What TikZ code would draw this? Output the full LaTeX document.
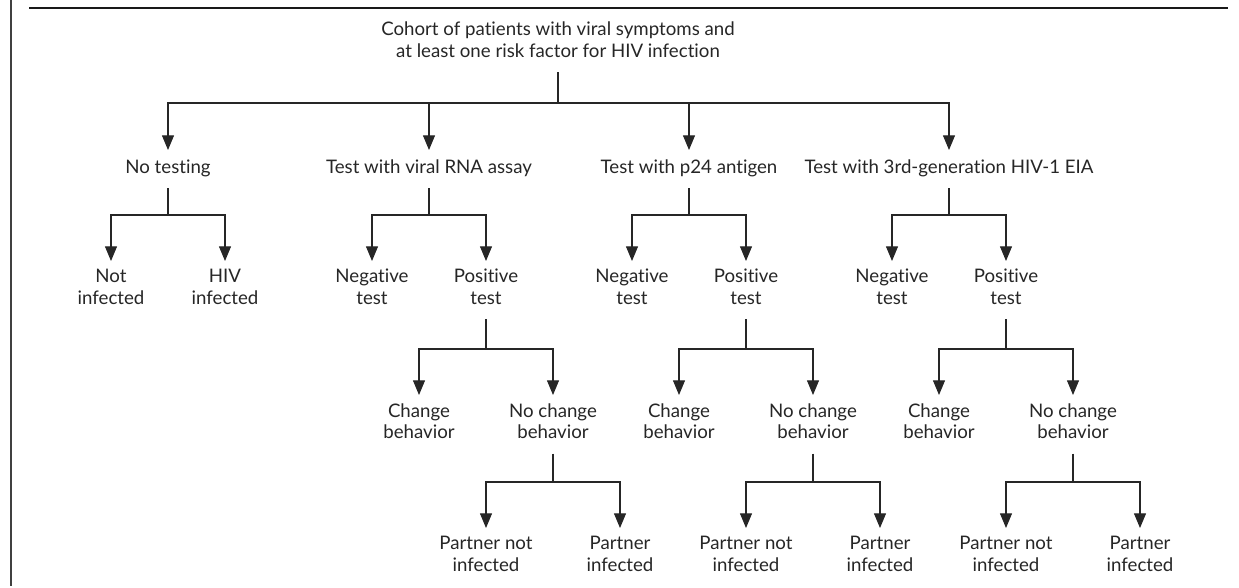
\documentclass[tikz,border=0pt]{standalone}
\usepackage{fontspec}
\setmainfont{Lato}[Ligatures=NoCommon]
\usetikzlibrary{arrows.meta}

\begin{document}
\begin{tikzpicture}[
    x=0.75pt, y=-0.75pt,
    every node/.style={font=\fontsize{14}{16.3}\selectfont, text=black!85},
    box/.style={align=center, inner xsep=0pt, inner ysep=6pt, execute at begin node=\strut, anchor=north},
    stem/.style={line width=0.8pt, draw=black!85},
    arrow/.style={stem, -{Triangle[length=11pt, width=9pt]}}
]
\useasboundingbox (0,0) rectangle (1239,587);

% Frame
\draw[line width=2.2pt, black!90] (29,8) -- (1228,8);
\draw[line width=0.8pt, black!75] (11,0) -- (11,586);

% Root
\node[box, anchor=south] (cohort) at (558,72) {Cohort of patients with viral symptoms and\\at least one risk factor for HIV infection};

% Strategies
\node[box] (notest) at (168,150) {No testing};
\node[box] (rna) at (429,150) {Test with viral RNA assay};
\node[box] (ptf) at (689,150) {Test with p24 antigen};
\node[box] (eia) at (949,150) {Test with 3rd-generation HIV-1 EIA};

% Test results
\node[box] (notinf) at (111,261) {Not\\infected};
\node[box] (hivinf) at (225,261) {HIV\\infected};
\node[box] (rnaneg) at (372,261) {Negative\\test};
\node[box] (rnapos) at (486,261) {Positive\\test};
\node[box] (ptfneg) at (632,261) {Negative\\test};
\node[box] (ptfpos) at (746,261) {Positive\\test};
\node[box] (eianeg) at (892,261) {Negative\\test};
\node[box] (eiapos) at (1006,261) {Positive\\test};

% Behavior
\node[box] (rnachg) at (419,395) {Change\\behavior};
\node[box] (rnanochg) at (553,395) {No change\\behavior};
\node[box] (ptfchg) at (679,395) {Change\\behavior};
\node[box] (ptfnochg) at (813,395) {No change\\behavior};
\node[box] (eiachg) at (939,395) {Change\\behavior};
\node[box] (eianochg) at (1073,395) {No change\\behavior};

% Partners
\node[box] (rnapni) at (486,528) {Partner not\\infected};
\node[box] (rnapi) at (620,528) {Partner\\infected};
\node[box] (ptfpni) at (746,528) {Partner not\\infected};
\node[box] (ptfpi) at (880,528) {Partner\\infected};
\node[box] (eiapni) at (1006,528) {Partner not\\infected};
\node[box] (eiapi) at (1140,528) {Partner\\infected};

% Junctions
\coordinate (jcohort) at (cohort |- 0,103);
\coordinate (jnotest) at (notest |- 0,215);
\coordinate (jrna) at (rna |- 0,215);
\coordinate (jptf) at (ptf |- 0,215);
\coordinate (jeia) at (eia |- 0,215);
\coordinate (jrnapos) at (rnapos |- 0,349);
\coordinate (jptfpos) at (ptfpos |- 0,349);
\coordinate (jeiapos) at (eiapos |- 0,349);
\coordinate (jrnanochg) at (rnanochg |- 0,482);
\coordinate (jptfnochg) at (ptfnochg |- 0,482);
\coordinate (jeianochg) at (eianochg |- 0,482);

% Arrows
\draw[stem] (cohort) -- (jcohort);
\draw[arrow] (jcohort) -| (notest);
\draw[arrow] (jcohort) -| (rna);
\draw[arrow] (jcohort) -| (ptf);
\draw[arrow] (jcohort) -| (eia);

\draw[stem] (notest) -- (jnotest);
\draw[arrow] (jnotest) -| (notinf);
\draw[arrow] (jnotest) -| (hivinf);
\draw[stem] (rna) -- (jrna);
\draw[arrow] (jrna) -| (rnaneg);
\draw[arrow] (jrna) -| (rnapos);
\draw[stem] (ptf) -- (jptf);
\draw[arrow] (jptf) -| (ptfneg);
\draw[arrow] (jptf) -| (ptfpos);
\draw[stem] (eia) -- (jeia);
\draw[arrow] (jeia) -| (eianeg);
\draw[arrow] (jeia) -| (eiapos);

\draw[stem] (rnapos) -- (jrnapos);
\draw[arrow] (jrnapos) -| (rnachg);
\draw[arrow] (jrnapos) -| (rnanochg);
\draw[stem] (ptfpos) -- (jptfpos);
\draw[arrow] (jptfpos) -| (ptfchg);
\draw[arrow] (jptfpos) -| (ptfnochg);
\draw[stem] (eiapos) -- (jeiapos);
\draw[arrow] (jeiapos) -| (eiachg);
\draw[arrow] (jeiapos) -| (eianochg);

\draw[stem] (rnanochg) -- (jrnanochg);
\draw[arrow] (jrnanochg) -| (rnapni);
\draw[arrow] (jrnanochg) -| (rnapi);
\draw[stem] (ptfnochg) -- (jptfnochg);
\draw[arrow] (jptfnochg) -| (ptfpni);
\draw[arrow] (jptfnochg) -| (ptfpi);
\draw[stem] (eianochg) -- (jeianochg);
\draw[arrow] (jeianochg) -| (eiapni);
\draw[arrow] (jeianochg) -| (eiapi);

\end{tikzpicture}
\end{document}
